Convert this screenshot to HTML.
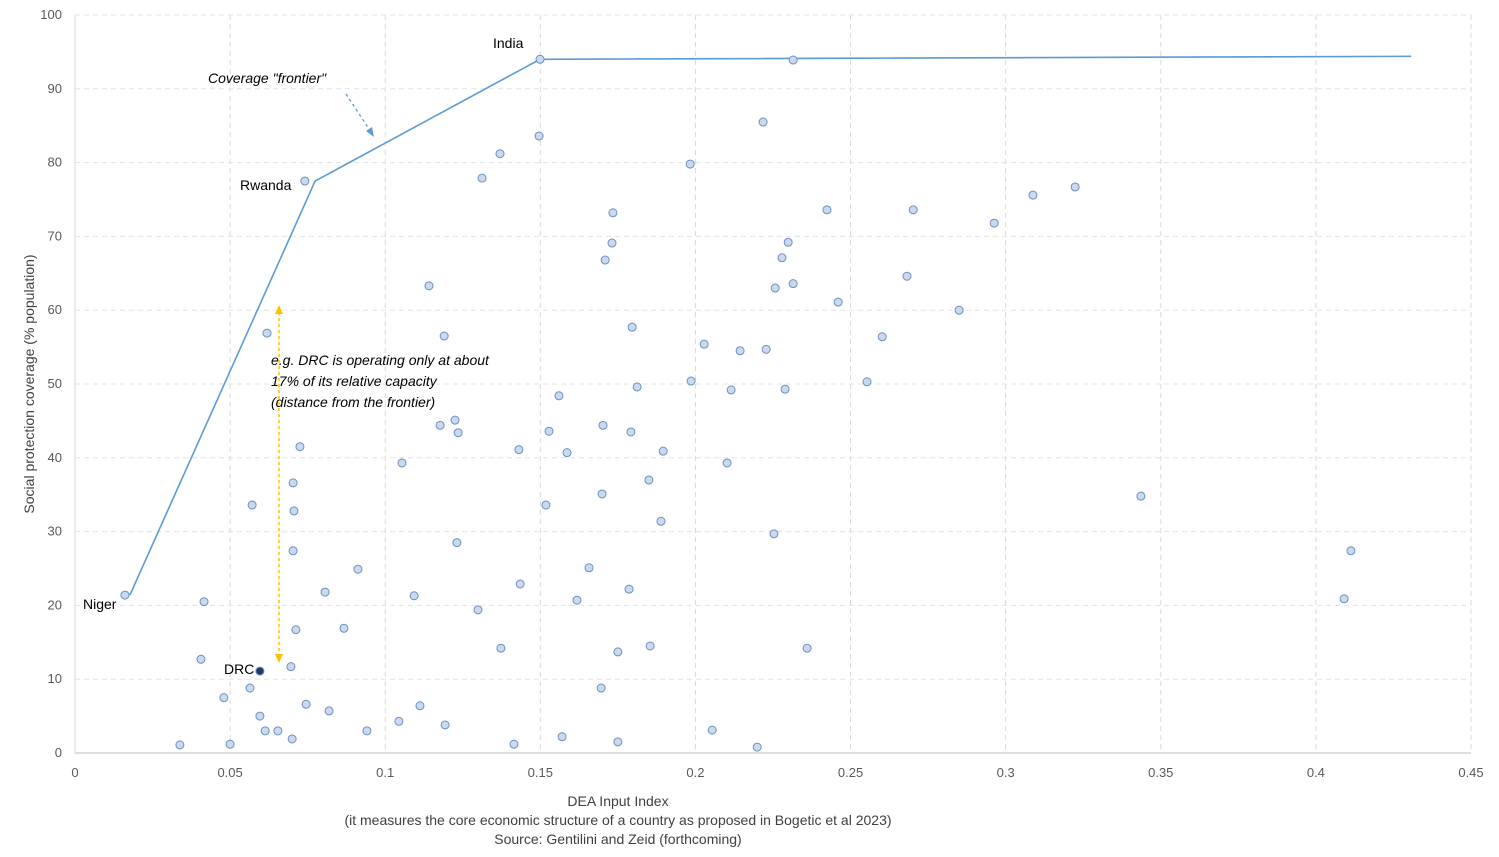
<!DOCTYPE html>
<html><head><meta charset="utf-8">
<style>
body{margin:0;background:#fff;}
svg{display:block;font-family:"Liberation Sans",Arial,sans-serif;}
</style></head>
<body>
<svg id="chart" width="1499" height="857" viewBox="0 0 1499 857">
<g id="grid"></g>
<g id="axes"></g>
<g id="frontier"></g>
<g id="pts"></g>
<g id="ann"></g>
</svg>
<script>
const xTicks=[0,0.05,0.1,0.15,0.2,0.25,0.3,0.35,0.4,0.45];
const xTickLabels=["0","0.05","0.1","0.15","0.2","0.25","0.3","0.35","0.4","0.45"];
const yTicks=[0,10,20,30,40,50,60,70,80,90,100];
const xVals=[0.0161,0.0741,0.1499,0.2315,0.0619,0.0571,0.0416,0.0406,0.0480,0.0564,0.0596,0.0613,0.0654,0.0700,0.0500,0.0338,0.0696,0.0712,0.0703,0.0706,0.0703,0.0725,0.0745,0.0819,0.0806,0.0867,0.0912,0.0941,0.1044,0.1054,0.1093,0.1112,0.1141,0.1190,0.1177,0.1225,0.1235,0.1193,0.1231,0.1299,0.1312,0.1370,0.1373,0.1415,0.1431,0.1435,0.1496,0.1518,0.1528,0.1560,0.1586,0.1618,0.1657,0.1699,0.1696,0.1702,0.1709,0.1731,0.1734,0.1750,0.157,0.1750,0.1786,0.1796,0.1792,0.1812,0.1850,0.1854,0.1889,0.1896,0.1983,0.1986,0.2028,0.2054,0.2102,0.2115,0.2144,0.2199,0.2218,0.2228,0.2253,0.2257,0.2279,0.2289,0.2299,0.2315,0.2360,0.2424,0.2460,0.2553,0.2602,0.2682,0.2702,0.2850,0.2963,0.3088,0.3224,0.3436,0.4113,0.4091];
const yVals=[21.4,77.5,94.0,93.9,56.9,33.6,20.5,12.7,7.5,8.8,5.0,3.0,3.0,1.9,1.2,1.1,11.7,16.7,27.4,32.8,36.6,41.5,6.6,5.7,21.8,16.9,24.9,3.0,4.3,39.3,21.3,6.4,63.3,56.5,44.4,45.1,43.4,3.8,28.5,19.4,77.9,81.2,14.2,1.2,41.1,22.9,83.6,33.6,43.6,48.4,40.7,20.7,25.1,35.1,8.8,44.4,66.8,69.1,73.2,13.7,2.2,1.5,22.2,57.7,43.5,49.6,37.0,14.5,31.4,40.9,79.8,50.4,55.4,3.1,39.3,49.2,54.5,0.8,85.5,54.7,29.7,63.0,67.1,49.3,69.2,63.6,14.2,73.6,61.1,50.3,56.4,64.6,73.6,60.0,71.8,75.6,76.7,34.8,27.4,20.9];
const drcPoint=[0.0596,11.1];
const frontierX=[0.0177,0.0774,0.1499,0.4307];
const frontierY=[21.4,77.5,94.0,94.4];
const L=75,R=1471,T=15,B=753;
const sx=v=>L+v/0.45*(R-L), sy=v=>B-v/100*(B-T);
const NS="http://www.w3.org/2000/svg";
function mk(tag,attrs,parent,text){const e=document.createElementNS(NS,tag);for(const k in attrs)e.setAttribute(k,attrs[k]);if(text!==undefined)e.textContent=text;parent.appendChild(e);return e;}
const grid=document.getElementById('grid'),axes=document.getElementById('axes');
xTicks.forEach((t,i)=>{
  if(i>0){const g=mk('line',{x1:sx(t),x2:sx(t),y1:T,y2:B,stroke:'#d9d9d9','stroke-dasharray':'5,4'},grid);
  
  }
  const l=mk('text',{x:sx(t),y:777,'text-anchor':'middle','font-size':13,fill:'#595959'},axes,xTickLabels[i]);
  
  
});
yTicks.forEach(t=>{
  if(t>0){const g=mk('line',{x1:L,x2:R,y1:sy(t),y2:sy(t),stroke:'#e3e3e3','stroke-dasharray':'5,4'},grid);
  
  }
  const l=mk('text',{x:62,y:sy(t)+4,'text-anchor':'end','font-size':13,fill:'#595959'},axes,String(t));
  
  
});
const xa=mk('line',{x1:L,x2:R,y1:B,y2:B,stroke:'#bfbfbf','stroke-width':1},axes);


const ya=mk('line',{x1:L,x2:L,y1:T,y2:B,stroke:'#d9d9d9','stroke-width':1},axes);


const yt=mk('text',{x:0,y:0,transform:'translate(34,384) rotate(-90)','text-anchor':'middle','font-size':14,fill:'#404040'},axes,'Social protection coverage (% population)');


["DEA Input Index","(it measures the core economic structure of a country as proposed in Bogetic et al 2023)","Source: Gentilini and Zeid (forthcoming)"].forEach((s,i)=>{
  const t=mk('text',{x:618,y:806+i*19,'text-anchor':'middle','font-size':14,fill:'#404040'},axes,s);
  
  
});
const fr=document.getElementById('frontier');
const fl=mk('polyline',{points:frontierX.map((x,i)=>sx(x)+','+sy(frontierY[i])).join(' '),fill:'none',stroke:'#5b9bd5','stroke-width':1.6},fr);


const pts=document.getElementById('pts');
xVals.forEach((x,i)=>{
  const c=mk('circle',{cx:sx(x),cy:sy(yVals[i]),r:4,fill:'#c9d9ee',stroke:'#6f8fbf','stroke-width':1},pts);
  
  
});
const d=mk('circle',{cx:sx(drcPoint[0]),cy:sy(drcPoint[1]),r:4,fill:'#1f3864',stroke:'#6f8fbf','stroke-width':1},pts);


const ann=document.getElementById('ann');
function lab(x,y,s,name,extra){const t=mk('text',Object.assign({x:x,y:y,'font-size':14,fill:'#000'},extra||{}),ann,s);

return t;}
lab(83,609,'Niger','label-niger');
lab(240,190,'Rwanda','label-rwanda');
lab(493,48,'India','label-india');
lab(224,674,'DRC','label-drc');
lab(208,83,'Coverage "frontier"','label-frontier',{'font-style':'italic'});
lab(271,365,'e.g. DRC is operating only at about','annotation-line1',{'font-style':'italic'});
lab(271,386,'17% of its relative capacity','annotation-line2',{'font-style':'italic'});
lab(271,407,'(distance from the frontier)','annotation-line3',{'font-style':'italic'});
const da=mk('line',{x1:346,y1:94,x2:371,y2:132,stroke:'#5b9bd5','stroke-width':1.3,'stroke-dasharray':'3,3'},ann);


const dh=mk('polygon',{points:'374,137 366,131 372,127',fill:'#5b9bd5'},ann);


const ya2=mk('line',{x1:279,y1:312,x2:279,y2:656,stroke:'#ffc000','stroke-width':1.5,'stroke-dasharray':'3,3'},ann);


const h1=mk('polygon',{points:'279,305 275,314 283,314',fill:'#ffc000'},ann);


const h2=mk('polygon',{points:'279,663 275,654 283,654',fill:'#ffc000'},ann);


</script>
</body></html>
